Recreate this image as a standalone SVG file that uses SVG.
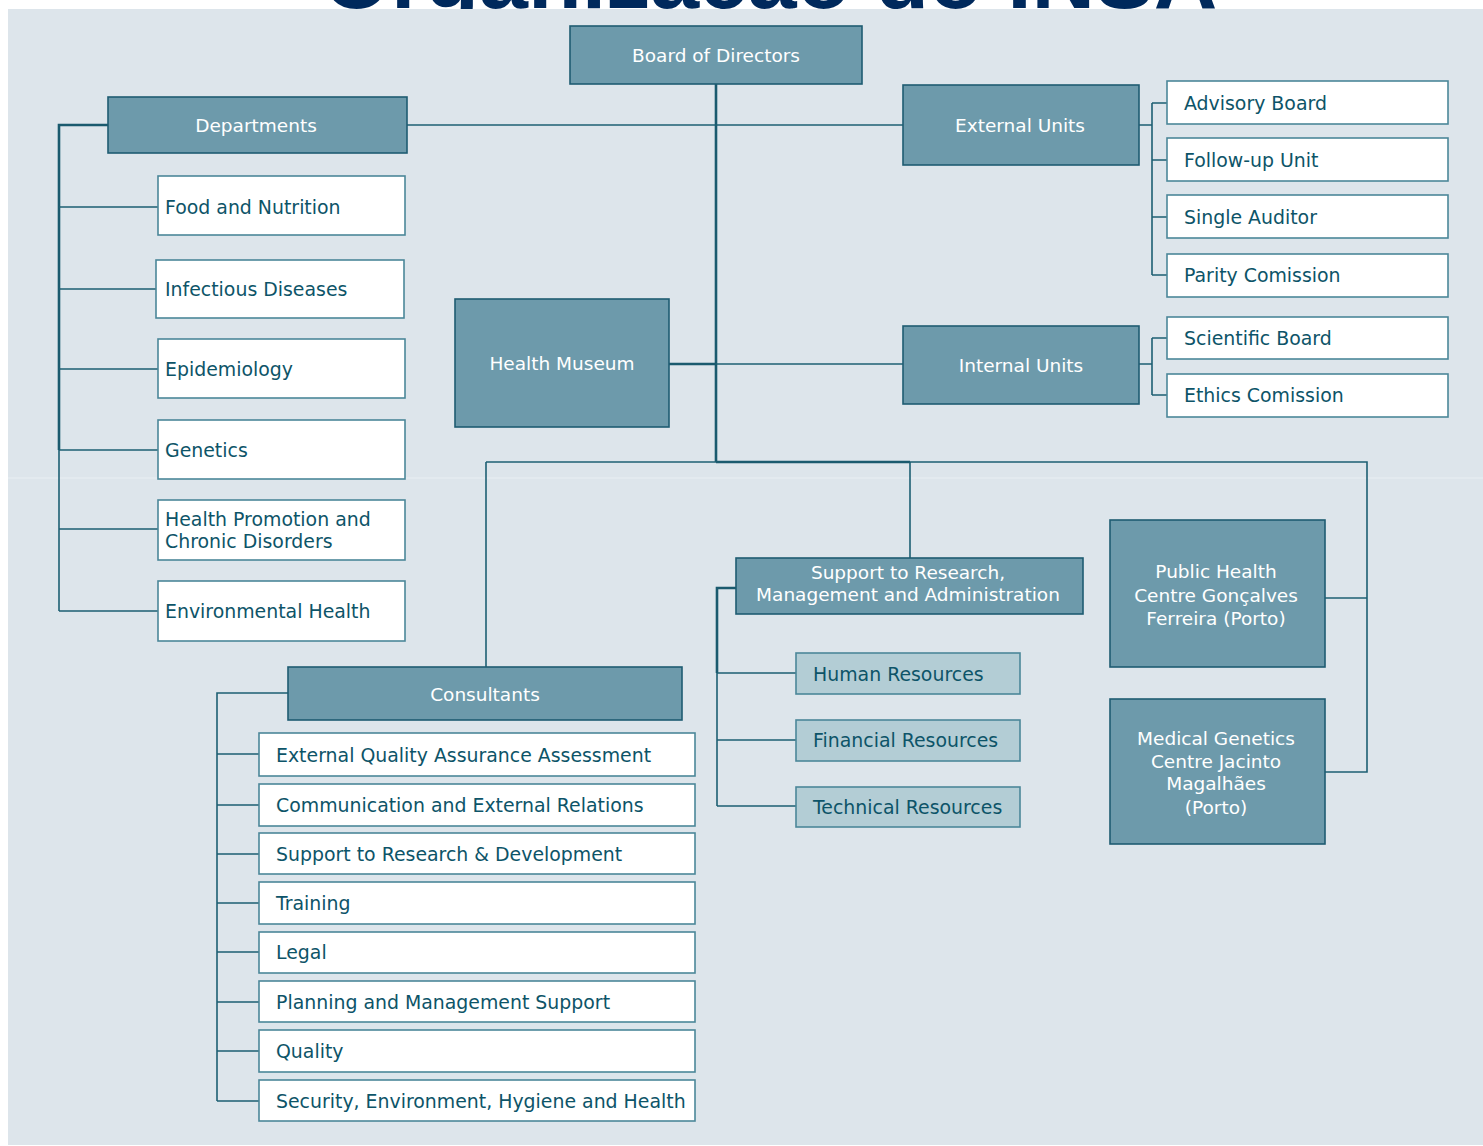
<svg xmlns="http://www.w3.org/2000/svg" width="1483" height="1146" viewBox="0 0 1483 1146">
<style>
.title{font-family:"Liberation Sans",Arial,sans-serif;font-weight:bold;font-size:88px;fill:#00295c}
.dk{fill:#6d9aab;stroke:#1e5c72;stroke-width:1.6}
.wh{fill:#ffffff;stroke:#4b8799;stroke-width:1.6}
.lt{fill:#b3cdd5;stroke:#4b8799;stroke-width:1.6}
.tw{font-family:"DejaVu Sans",Verdana,sans-serif;font-size:18.5px;fill:#ffffff;text-anchor:middle;dominant-baseline:central}
.td{font-family:"DejaVu Sans",Verdana,sans-serif;font-size:18.9px;fill:#0d5468;dominant-baseline:central}
.c{fill:none;stroke:#1d5f73;stroke-width:1.6}
.ck{fill:none;stroke:#1a5a6e;stroke-width:2.6}
</style>
<rect x="0" y="0" width="1483" height="1146" fill="#ffffff"/>
<text class="title" x="770" y="8" text-anchor="middle">Organização do INSA</text>
<rect x="8" y="9" width="1475" height="1136" fill="#dde5eb"/>
<line x1="8" y1="478" x2="1483" y2="478" stroke="#e9eff3" stroke-width="1"/>

<g id="connectors">
  <path class="ck" d="M716 84 V462"/>
  <path class="c" d="M407 125 H903"/>
  <path class="ck" d="M669 364 H716"/>
  <path class="c" d="M716 364 H903"/>
  <path class="c" d="M486 462 H716"/>
  <path class="ck" d="M716 462 H910"/>
  <path class="c" d="M910 462 H1367 V772 H1325"/>
  <path class="c" d="M1367 598 H1325"/>
  <path class="c" d="M486 462 V667"/>
  <path class="c" d="M910 462 V558"/>
  <path class="ck" d="M108 125 H59 V450"/>
  <path class="c" d="M59 450 V611"/>
  <path class="c" d="M59 207 H158 M59 289 H156 M59 369 H158 M59 450 H158 M59 529 H158 M59 611 H158"/>
  <path class="c" d="M1139 125 H1152 M1152 103 V275 M1152 103 H1167 M1152 160 H1167 M1152 217 H1167 M1152 275 H1167"/>
  <path class="c" d="M1139 364 H1152 M1152 338 V395 M1152 338 H1167 M1152 395 H1167"/>
  <path class="ck" d="M736 588 H717 V673"/>
  <path class="c" d="M717 673 V806 M717 673 H796 M717 740 H796 M717 806 H796"/>
  <path class="c" d="M288 693 H217 V1101 M217 754 H259 M217 805 H259 M217 854 H259 M217 903 H259 M217 952 H259 M217 1002 H259 M217 1051 H259 M217 1101 H259"/>
</g>

<g id="board"><rect class="dk" x="570" y="26" width="292" height="58"/><text class="tw" x="716" y="55">Board of Directors</text></g>
<g id="departments"><rect class="dk" x="108" y="97" width="299" height="56"/><text class="tw" x="256" y="125">Departments</text></g>
<g id="external-units"><rect class="dk" x="903" y="85" width="236" height="80"/><text class="tw" x="1020" y="125">External Units</text></g>
<g id="internal-units"><rect class="dk" x="903" y="326" width="236" height="78"/><text class="tw" x="1021" y="365">Internal Units</text></g>
<g id="health-museum"><rect class="dk" x="455" y="299" width="214" height="128"/><text class="tw" x="562" y="363">Health Museum</text></g>

<g id="advisory-board"><rect class="wh" x="1167" y="81" width="281" height="43"/><text class="td" x="1184" y="103">Advisory Board</text></g>
<g id="follow-up-unit"><rect class="wh" x="1167" y="138" width="281" height="43"/><text class="td" x="1184" y="160">Follow-up Unit</text></g>
<g id="single-auditor"><rect class="wh" x="1167" y="195" width="281" height="43"/><text class="td" x="1184" y="217">Single Auditor</text></g>
<g id="parity-comission"><rect class="wh" x="1167" y="254" width="281" height="43"/><text class="td" x="1184" y="275">Parity Comission</text></g>
<g id="scientific-board"><rect class="wh" x="1167" y="317" width="281" height="42"/><text class="td" x="1184" y="338">Scientific Board</text></g>
<g id="ethics-comission"><rect class="wh" x="1167" y="374" width="281" height="43"/><text class="td" x="1184" y="395">Ethics Comission</text></g>

<g id="food-nutrition"><rect class="wh" x="158" y="176" width="247" height="59"/><text class="td" x="165" y="207">Food and Nutrition</text></g>
<g id="infectious-diseases"><rect class="wh" x="156" y="260" width="248" height="58"/><text class="td" x="165" y="289">Infectious Diseases</text></g>
<g id="epidemiology"><rect class="wh" x="158" y="339" width="247" height="59"/><text class="td" x="165" y="369">Epidemiology</text></g>
<g id="genetics"><rect class="wh" x="158" y="420" width="247" height="59"/><text class="td" x="165" y="450">Genetics</text></g>
<g id="health-promotion"><rect class="wh" x="158" y="500" width="247" height="60"/><text class="td" x="165" y="519">Health Promotion and</text><text class="td" x="165" y="541">Chronic Disorders</text></g>
<g id="environmental-health"><rect class="wh" x="158" y="581" width="247" height="60"/><text class="td" x="165" y="611">Environmental Health</text></g>

<g id="support-research"><rect class="dk" x="736" y="558" width="347" height="56"/><text class="tw" x="908" y="572">Support to Research,</text><text class="tw" x="908" y="594">Management and Administration</text></g>
<g id="human-resources"><rect class="lt" x="796" y="653" width="224" height="41"/><text class="td" x="813" y="674">Human Resources</text></g>
<g id="financial-resources"><rect class="lt" x="796" y="720" width="224" height="41"/><text class="td" x="813" y="740">Financial Resources</text></g>
<g id="technical-resources"><rect class="lt" x="796" y="787" width="224" height="40"/><text class="td" x="813" y="807">Technical Resources</text></g>

<g id="public-health-centre"><rect class="dk" x="1110" y="520" width="215" height="147"/><text class="tw" x="1216" y="571">Public Health</text><text class="tw" x="1216" y="595">Centre Gonçalves</text><text class="tw" x="1216" y="618">Ferreira (Porto)</text></g>
<g id="medical-genetics-centre"><rect class="dk" x="1110" y="699" width="215" height="145"/><text class="tw" x="1216" y="738">Medical Genetics</text><text class="tw" x="1216" y="761">Centre Jacinto</text><text class="tw" x="1216" y="783">Magalhães</text><text class="tw" x="1216" y="807">(Porto)</text></g>

<g id="consultants"><rect class="dk" x="288" y="667" width="394" height="53"/><text class="tw" x="485" y="694">Consultants</text></g>
<g id="eqaa"><rect class="wh" x="259" y="733" width="436" height="43"/><text class="td" x="276" y="755">External Quality Assurance Assessment</text></g>
<g id="communication"><rect class="wh" x="259" y="784" width="436" height="42"/><text class="td" x="276" y="805">Communication and External Relations</text></g>
<g id="support-rd"><rect class="wh" x="259" y="833" width="436" height="41"/><text class="td" x="276" y="854">Support to Research &amp; Development</text></g>
<g id="training"><rect class="wh" x="259" y="882" width="436" height="42"/><text class="td" x="276" y="903">Training</text></g>
<g id="legal"><rect class="wh" x="259" y="932" width="436" height="41"/><text class="td" x="276" y="952">Legal</text></g>
<g id="planning"><rect class="wh" x="259" y="981" width="436" height="41"/><text class="td" x="276" y="1002">Planning and Management Support</text></g>
<g id="quality"><rect class="wh" x="259" y="1030" width="436" height="42"/><text class="td" x="276" y="1051">Quality</text></g>
<g id="security"><rect class="wh" x="259" y="1080" width="436" height="41"/><text class="td" x="276" y="1101">Security, Environment, Hygiene and Health</text></g>
</svg>
